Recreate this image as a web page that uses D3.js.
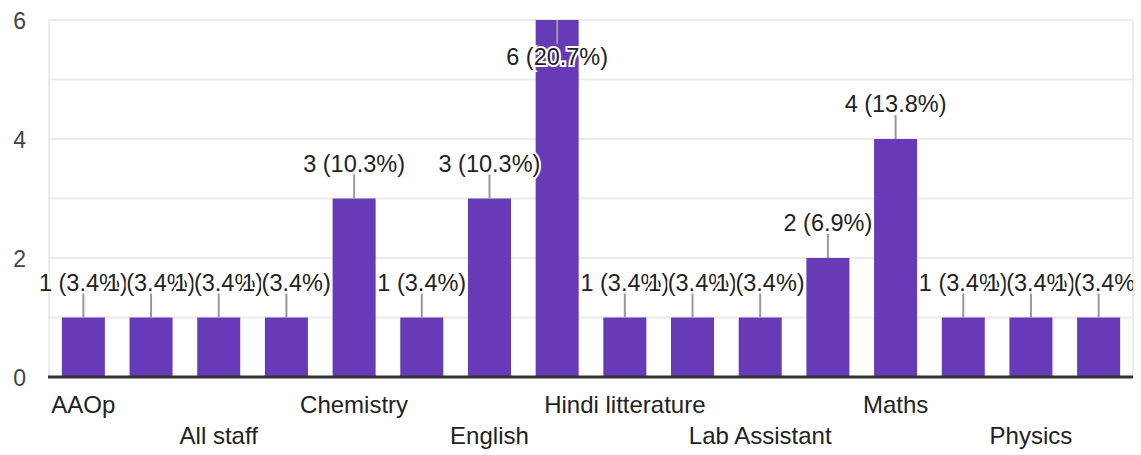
<!DOCTYPE html>
<html><head><meta charset="utf-8">
<script src="https://cdn.jsdelivr.net/npm/d3@7"></script>
<style>
html,body{margin:0;padding:0;background:#fff;}
svg{display:block;}
text{font-family:"Liberation Sans",Arial,sans-serif;}
</style></head>
<body>
<svg id="chart" width="1141" height="455"></svg>
<script>
const categories = ["AAOp","Admin","All staff","Biology","Chemistry","Computer","English","Hindi","Hindi litterature","History","Lab Assistant","Librarian","Maths","Music","Physics","Sanskrit"];
const values = [1,1,1,1,3,1,3,6,1,1,1,2,4,1,1,1];
const yTicks = [0,2,4,6];
const gridTicks = [0,1,2,3,4,5,6];

const total = d3.sum(values);
const svg = d3.select("#chart");
const pLeft = 49, pRight = 1133, pTop = 20, pBottom = 377;

const x = d3.scaleBand().domain(categories).range([pLeft, pRight]).paddingInner(0.3645).paddingOuter(0.19);
const y = d3.scaleLinear().domain([0, 6]).range([pBottom, pTop]);

svg.append("defs").append("clipPath").attr("id","clipR")
  .append("rect").attr("x",0).attr("y",0).attr("width",pRight).attr("height",455);

// gridlines
svg.append("g").selectAll("line").data(gridTicks.filter(d=>d>0)).join("line")
  .attr("x1", pLeft).attr("x2", pRight).attr("y1", d=>y(d)).attr("y2", d=>y(d))
  .attr("stroke", "#ebebeb").attr("stroke-width", 2);
svg.append("line").attr("x1", pLeft).attr("x2", pLeft).attr("y1", pTop).attr("y2", pBottom).attr("stroke","#ebebeb").attr("stroke-width",2);
svg.append("line").attr("x1", pRight).attr("x2", pRight).attr("y1", pTop).attr("y2", pBottom).attr("stroke","#ebebeb").attr("stroke-width",2);

// y axis labels
const yAxis = d3.axisLeft(y).tickValues(yTicks).tickSize(0).tickPadding(0).tickFormat(d3.format("d"));
const gy = svg.append("g").attr("transform", `translate(${pLeft-23},0)`).call(yAxis);
gy.select(".domain").remove();
gy.selectAll("text").attr("font-size", 23).attr("fill", "#444").attr("font-family", '"Liberation Sans",Arial,sans-serif').attr("dy", "0.36em");

// bars
svg.append("g").selectAll("rect").data(values).join("rect")
  .attr("x", (d,i)=>x(categories[i])).attr("width", x.bandwidth())
  .attr("y", d=>y(d)).attr("height", d=>y(0)-y(d))
  .attr("fill", "#673ab7");

// baseline
svg.append("line").attr("x1", pLeft-1).attr("x2", pRight).attr("y1", y(0)).attr("y2", y(0)).attr("stroke","#333").attr("stroke-width",3);

// x axis labels (every other, staggered)
const gx = svg.append("g");
categories.forEach((c,i)=>{
  if (i % 2 !== 0) return;
  const row = (i/2) % 2;
  gx.append("text").attr("x", x(c)+x.bandwidth()/2).attr("y", row===0 ? 413 : 444)
    .attr("text-anchor","middle").attr("font-size", 24).attr("fill","#222").text(c);
});

// leader lines and labels
const lab = svg.append("g").attr("clip-path","url(#clipR)");
values.forEach((v,i)=>{
  const cx = x(categories[i]) + x.bandwidth()/2;
  const yt = y(v);
  const inside = yt - 50 < 0;
  const l1 = inside ? yt : yt - 24, l2 = inside ? yt + 24 : yt;
  lab.append("line").attr("x1",cx).attr("x2",cx).attr("y1",l1).attr("y2",l2).attr("stroke","#999").attr("stroke-width",2);
});
values.forEach((v,i)=>{
  const cx = x(categories[i]) + x.bandwidth()/2;
  const yt = y(v);
  const inside = yt - 50 < 0;
  const by = inside ? yt + 45 : yt - 27;
  const t = `${v} (${(v/total*100).toFixed(1)}%)`;
  lab.append("text").attr("x",cx).attr("y",by).attr("text-anchor","middle")
    .attr("font-size",23.5).attr("fill","#222")
    .attr("stroke","#fff").attr("stroke-width",4).attr("paint-order","stroke")
    .text(t);
});
</script>
</body></html>
